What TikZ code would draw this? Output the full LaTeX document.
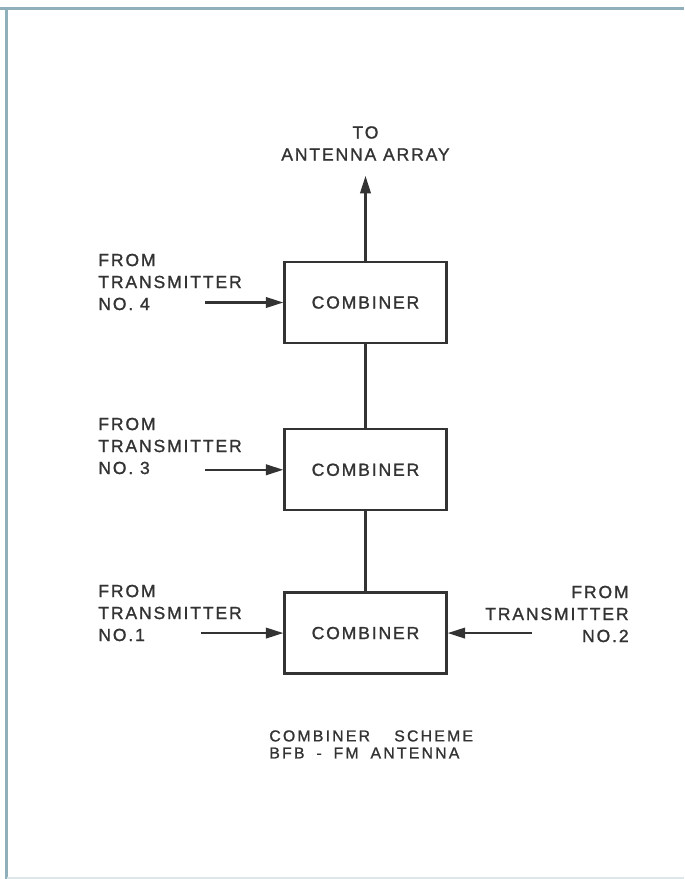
\documentclass[tikz,border=0pt]{standalone}
\usepackage{fontspec}
\setmainfont{Liberation Sans}
\newfontfamily\letterfont[LetterSpace=10.5,FakeBold=1.2]{Liberation Sans}
\newfontfamily\captionfont[LetterSpace=14,WordSpace=1.8,FakeBold=1.2]{Liberation Sans}
\usetikzlibrary{positioning, arrows.meta}
\definecolor{inkgray}{HTML}{333333}
\definecolor{frameblue}{RGB}{143,176,186}

\begin{document}
\begin{tikzpicture}[
        node distance=1.66cm,
        combbox/.style={rectangle, draw=inkgray, line width=1.3pt, minimum width=3.24cm, minimum height=1.62cm, inner sep=0pt, align=center, text=inkgray, font=\letterfont\fontsize{10}{12.5}\selectfont},
        txlabel/.style={inner sep=0pt, text=inkgray, font=\letterfont\fontsize{10}{12.5}\selectfont},
        caplabel/.style={inner sep=0pt, align=left, text=inkgray, font=\captionfont\fontsize{9}{9.7}\selectfont},
        arr/.style={-{Triangle[length=10pt, width=6pt]}, line width=1.3pt, inkgray},
        wire/.style={line width=1.3pt, inkgray},
    ]
        \useasboundingbox (0,0) rectangle (13.68,-17.58);

        % Page frame
        \draw[frameblue, line width=0.06cm] (0,-0.18) -- (13.68,-0.18);
        \draw[frameblue, line width=0.06cm] (0.13,-0.18) -- (0.13,-17.58);
        \draw[frameblue!30, line width=0.04cm] (0.13,-17.55) -- (13.68,-17.55);

        % Combiners (top to bottom)
        \node[combbox] (comb4) at (7.31,-6.05) {COMBINER};
        \node[combbox, below=1.68cm of comb4] (comb3) {COMBINER};
        \node[combbox, below=1.60cm of comb3] (comb12) {COMBINER};

        % Output to the antenna
        \coordinate[above=1.70cm of comb4.north] (tip);
        \node[txlabel, align=center, above=0.30cm of tip] (ant) {TO\\ANTENNA ARRAY};

        % Transmitter inputs
        \coordinate[left=1.56cm of comb4.west] (in4);
        \coordinate[left=1.56cm of comb3.west] (in3);
        \coordinate[left=1.64cm of comb12.west] (in1);
        \coordinate[right=1.68cm of comb12.east] (in2);

        \node[txlabel, align=left, anchor=west] (tx4) at (1.96,-5.64) {FROM\\TRANSMITTER\\NO. 4};
        \node[txlabel, align=left, anchor=west] (tx3) at (1.96,-8.92) {FROM\\TRANSMITTER\\NO. 3};
        \node[txlabel, align=left, anchor=west] (tx1) at (1.96,-12.26) {FROM\\TRANSMITTER\\NO.1};
        \node[txlabel, align=right, anchor=east] (tx2) at (12.58,-12.28) {FROM\\TRANSMITTER\\NO.2};

        % Caption
        \node[caplabel, anchor=north west] (cap) at (5.38,-14.60) {COMBINER\hspace{7pt} SCHEME\\BFB - FM ANTENNA};

        % Arrows
        \draw[arr] (in4) -- (comb4.west);
        \draw[arr] (in3) -- (comb3.west);
        \draw[arr] (in1) -- (comb12.west);
        \draw[arr] (in2) -- (comb12.east);
        \draw[arr] (comb4.north) -- (tip);

        % Chain between combiners
        \draw[wire] (comb12.north) -- (comb3.south);
        \draw[wire] (comb3.north) -- (comb4.south);
\end{tikzpicture}
\end{document}
